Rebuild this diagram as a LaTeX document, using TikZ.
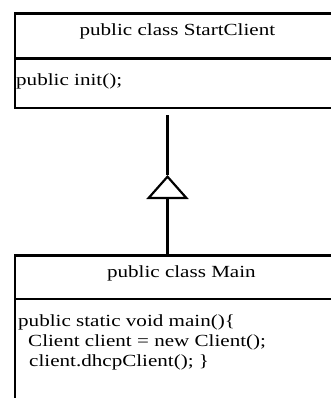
\documentclass[tikz,border=0pt]{standalone}
\usepackage{fontspec}
\setmainfont{Liberation Serif}[FakeStretch=1.24]
\usetikzlibrary{arrows.meta,calc}
\begin{document}
\begin{tikzpicture}[x=1pt,y=-1pt,
  classpart/.style={draw, line width=2.2pt, minimum width=326pt, anchor=north west, inner sep=0pt},
  label/.style={inner sep=0pt, font=\fontsize{17}{20}\selectfont},
  inherit/.style={line width=2.2pt, line join=miter}]
\useasboundingbox (0,0) rectangle (331,398);
\clip (0,0) rectangle (331,398);

% class StartClient
\node[classpart, minimum height=45pt] (sctitle) at (14,12.4) {};
\node[classpart, minimum height=50pt] (scbody) at (14,57.3) {};
\node[label, anchor=base] (scname) at (177.4,35.7) {public class StartClient};
\node[label, anchor=base west] (scinit) at (16,86) {public init();};

% class Main
\node[classpart, minimum height=43.4pt] (mtitle) at (14,254.3) {};
\node[classpart, minimum height=120pt] (mbody) at (14,297.7) {};
\node[label, anchor=base] (mname) at (181.4,277) {public class Main};
\node[label, anchor=base west] (mline1) at (18,326.7) {public static void main()\{};
\node[label, anchor=base west] (mline2) at (28,346.7) {Client client = new Client();};
\node[label, anchor=base west] (mline3) at (29,366.7) {client.dhcpClient(); \}};

% generalization: Main extends StartClient
\coordinate (gtail) at (167.5,115);
\coordinate (gapex) at (167.5,175);
\draw[inherit, -{Triangle[open, length=24pt, width=42pt]}]
  ($(mtitle.north west)+(153.5,0)$) -- (gapex);
\draw[inherit] (gapex) -- (gtail);
\end{tikzpicture}
\end{document}
